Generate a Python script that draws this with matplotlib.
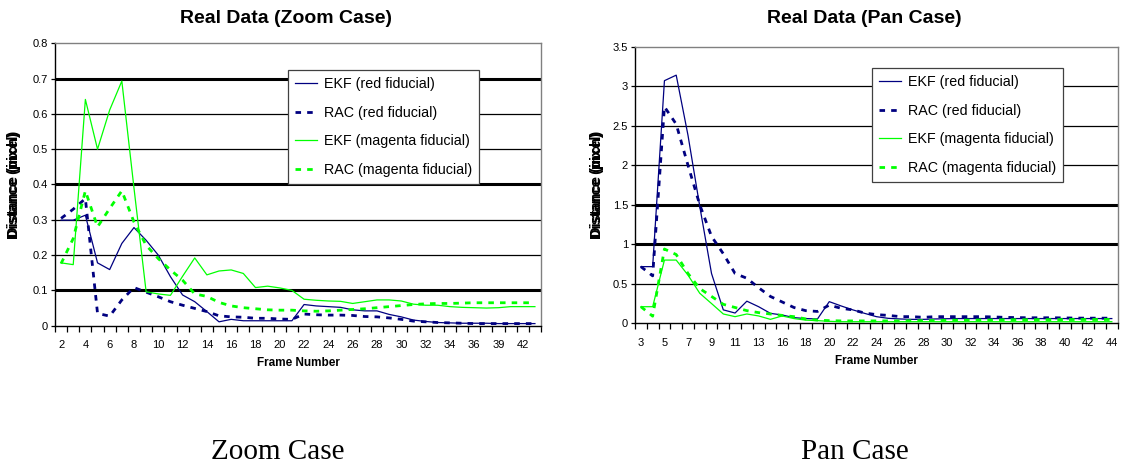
import numpy as np
import matplotlib
matplotlib.use("Agg")
import matplotlib.pyplot as plt

plt.rcParams['font.family'] = ['Liberation Sans', 'DejaVu Sans']

# zoom case
zoom_frames = list(range(2, 37)) + [37, 39, 40, 42, 43]
zoom_ekf_red = [0.299, 0.299, 0.313, 0.178, 0.159, 0.233, 0.278, 0.242, 0.200, 0.139,
                0.087, 0.068, 0.040, 0.011, 0.018, 0.014, 0.014, 0.014, 0.014, 0.014,
                0.060, 0.056, 0.054, 0.052, 0.045, 0.042, 0.042, 0.032, 0.025, 0.016,
                0.012, 0.009, 0.008, 0.007, 0.007, 0.007, 0.006, 0.006, 0.006, 0.006]
zoom_rac_red = [0.304, 0.330, 0.360, 0.035, 0.027, 0.073, 0.108, 0.095, 0.082, 0.068,
                0.058, 0.049, 0.040, 0.028, 0.025, 0.024, 0.021, 0.021, 0.019, 0.018,
                0.033, 0.031, 0.030, 0.030, 0.029, 0.026, 0.025, 0.022, 0.018, 0.013,
                0.011, 0.009, 0.008, 0.007, 0.006, 0.006, 0.006, 0.006, 0.006, 0.006]
zoom_ekf_mag = [0.178, 0.173, 0.641, 0.500, 0.611, 0.693, 0.390, 0.096, 0.090, 0.086,
                0.140, 0.192, 0.144, 0.155, 0.158, 0.148, 0.108, 0.112, 0.107, 0.100,
                0.075, 0.072, 0.070, 0.069, 0.063, 0.068, 0.073, 0.073, 0.070, 0.061,
                0.058, 0.058, 0.054, 0.052, 0.051, 0.050, 0.051, 0.054, 0.054, 0.054]
zoom_rac_mag = [0.176, 0.247, 0.382, 0.280, 0.332, 0.382, 0.294, 0.228, 0.190, 0.158,
                0.129, 0.090, 0.083, 0.066, 0.056, 0.051, 0.048, 0.045, 0.044, 0.044,
                0.042, 0.041, 0.042, 0.044, 0.046, 0.048, 0.051, 0.054, 0.057, 0.060,
                0.062, 0.063, 0.063, 0.064, 0.065, 0.065, 0.065, 0.065, 0.065, 0.065]

# pan case
pan_frames = list(range(3, 14)) + [15] + list(range(16, 45))
pan_ekf_red = [0.717, 0.717, 3.07, 3.14, 2.38, 1.48, 0.63, 0.17, 0.13, 0.28, 0.21,
               0.126, 0.105, 0.072, 0.06, 0.055, 0.274, 0.22, 0.17, 0.126, 0.084,
               0.063, 0.055, 0.05, 0.05, 0.055, 0.058, 0.06, 0.06, 0.06, 0.06,
               0.06, 0.06, 0.06, 0.06, 0.06, 0.06, 0.06, 0.06, 0.06, 0.06]
pan_rac_red = [0.717, 0.60, 2.74, 2.52, 2.0, 1.5, 1.1, 0.88, 0.63, 0.57, 0.45,
               0.34, 0.27, 0.2, 0.16, 0.15, 0.23, 0.19, 0.17, 0.13, 0.11,
               0.1, 0.085, 0.084, 0.076, 0.084, 0.084, 0.084, 0.084, 0.084, 0.08,
               0.075, 0.072, 0.07, 0.07, 0.07, 0.068, 0.066, 0.065, 0.065, 0.065]
pan_ekf_mag = [0.21, 0.21, 0.80, 0.80, 0.61, 0.38, 0.25, 0.118, 0.084, 0.118, 0.093,
               0.05, 0.093, 0.06, 0.04, 0.034, 0.025, 0.02, 0.02, 0.02, 0.02,
               0.02, 0.02, 0.02, 0.02, 0.02, 0.02, 0.02, 0.02, 0.02, 0.02,
               0.02, 0.02, 0.02, 0.02, 0.02, 0.02, 0.02, 0.02, 0.02, 0.02]
pan_rac_mag = [0.21, 0.09, 0.94, 0.87, 0.63, 0.44, 0.34, 0.24, 0.2, 0.16, 0.135,
               0.118, 0.10, 0.084, 0.055, 0.04, 0.034, 0.03, 0.03, 0.03, 0.03,
               0.03, 0.03, 0.032, 0.034, 0.036, 0.038, 0.04, 0.04, 0.042, 0.042,
               0.044, 0.045, 0.045, 0.046, 0.046, 0.047, 0.048, 0.048, 0.048, 0.048]

labels = ['EKF (red fiducial)', 'RAC (red fiducial)',
          'EKF (magenta fiducial)', 'RAC (magenta fiducial)']

NAVY = '#000080'
GREEN = '#00ff00'

W, H = 1122, 467
fig = plt.figure(figsize=(W / 100, H / 100), dpi=100)


def panel(rect, frames, series, title, title_x, ymax, ystep, thick, legend_box, ylab_x):
    ax = fig.add_axes(rect)
    x = np.arange(len(frames))
    styles = [dict(color=NAVY, lw=0.9, ls='-'),
              dict(color=NAVY, lw=2.0, ls=(0, (2.0, 2.2))),
              dict(color=GREEN, lw=0.9, ls='-'),
              dict(color=GREEN, lw=2.0, ls=(0, (2.0, 2.2)))]
    yt = np.arange(0, ymax + ystep / 2, ystep)
    for v in yt[1:-1]:
        lw = 2.2 if any(abs(v - t) < 1e-9 for t in thick) else 0.9
        ax.axhline(v, color='black', lw=lw, zorder=1)
    handles = []
    for s, lab, st in zip(series, labels, styles):
        h, = ax.plot(x, s, label=lab, zorder=3, **st)
        handles.append(h)
    ax.set_xlim(-0.5, len(frames) - 0.5)
    ax.set_ylim(0, ymax)
    ax.set_yticks(yt)
    ax.set_yticklabels([('%g' % v) for v in yt], fontsize=8)
    ax.set_xticks(x[::2])
    ax.set_xticklabels([str(f) for f in frames[::2]], fontsize=8)
    ax.set_xticks(np.arange(len(frames) + 1) - 0.5, minor=True)
    ax.tick_params(axis='x', which='major', length=0, pad=10.5)
    ax.tick_params(axis='x', which='minor', length=4, width=0.9, direction='out')
    ax.tick_params(axis='y', length=3, width=0.9, direction='out', pad=2)
    for side in ('left', 'bottom'):
        ax.spines[side].set_color('black')
        ax.spines[side].set_linewidth(1.0)
    for side in ('top', 'right'):
        ax.spines[side].set_color('#808080')
        ax.spines[side].set_linewidth(1.0)
    fig.text(title_x / W, 1 - 18.5 / H, title, fontsize=14, fontweight='bold',
             ha='center', va='center')
    ax.set_xlabel('Frame Number', fontsize=8.5, fontweight='bold', labelpad=5)
    # the original has two y labels printed on top of each other
    for t in ('Distance (inch)', 'Distance (pixel)'):
        ax.text(ylab_x, 0.5, t, transform=ax.transAxes, rotation=90,
                ha='center', va='center', fontsize=10.5, fontweight='bold')
    leg = ax.legend(handles=handles, loc='upper left', bbox_to_anchor=legend_box,
                    fontsize=10.3, frameon=True, fancybox=False, framealpha=1,
                    edgecolor='#404040', handlelength=1.55, handletextpad=0.45,
                    borderpad=0.5, labelspacing=1.02, borderaxespad=0)
    leg.get_frame().set_linewidth(0.9)
    leg.set_zorder(4)
    return ax


ax1 = panel([55 / W, 1 - 325.7 / H, (541 - 55) / W, (325.7 - 43.3) / H],
            zoom_frames, [zoom_ekf_red, zoom_rac_red, zoom_ekf_mag, zoom_rac_mag],
            'Real Data (Zoom Case)', 286, 0.8, 0.1, [0.1, 0.4, 0.7],
            ((288 - 55) / 486, 1 - (70 - 43.3) / 282.4), (14 - 55) / 486)
ax2 = panel([635 / W, 1 - 323.3 / H, (1117.7 - 635) / W, (323.3 - 46.7) / H],
            pan_frames, [pan_ekf_red, pan_rac_red, pan_ekf_mag, pan_rac_mag],
            'Real Data (Pan Case)', 864, 3.5, 0.5, [1.0, 1.5],
            ((872 - 635) / 482.7, 1 - (68 - 46.7) / 276.6), (597 - 635) / 482.7)

fig.text(278 / W, 1 - 452 / H, 'Zoom Case', family='Liberation Serif',
         fontsize=21, ha='center', va='center')
fig.text(855 / W, 1 - 452 / H, 'Pan Case', family='Liberation Serif',
         fontsize=21, ha='center', va='center')

fig.savefig('out.png', dpi=100)
